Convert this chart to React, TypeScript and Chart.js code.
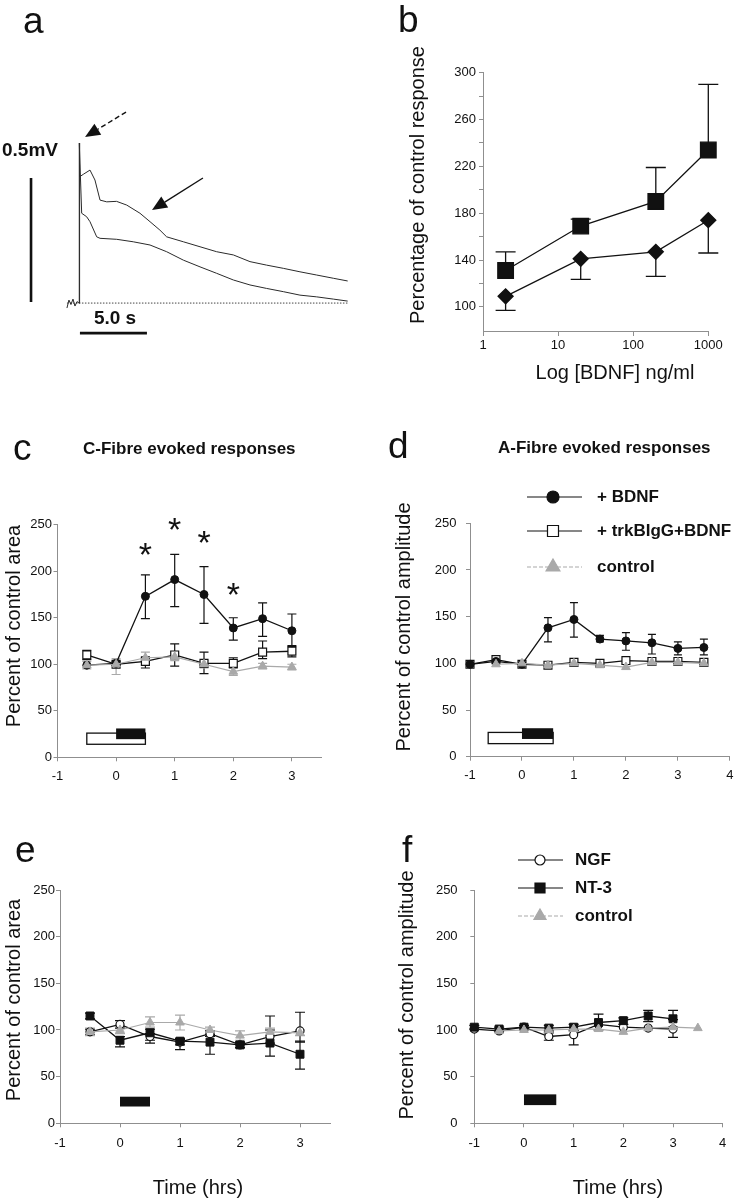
import React, { useEffect, useRef } from 'react';
import { Chart, registerables } from 'chart.js';

Chart.register(...registerables);

const FONT = '"Liberation Sans", Arial, Helvetica, sans-serif';
const PAGE_W = 740;
const PAGE_H = 1200;
const INK = '#111111';
const GRAY = '#a9a9a9';
const AXIS = '#8f8f8f';

// ---------- Panel a : trace (time in s, amplitude in mV) ----------
const A_UPPER_T = [0, 0.02, 0.07, 0.35, 0.82, 1.19, 1.57, 2.07, 2.8, 3.56, 4.55, 5.3, 6.04, 6.54, 7.79, 9.03, 10.27, 11.52, 12.76, 14.0, 15.25, 16.49, 17.74, 18.98, 20.05];
const A_UPPER_MV = [0, 0.645, 0.509, 0.52, 0.536, 0.496, 0.415, 0.408, 0.41, 0.395, 0.362, 0.328, 0.294, 0.267, 0.247, 0.227, 0.207, 0.194, 0.167, 0.153, 0.14, 0.126, 0.113, 0.1, 0.089];
const A_LOWER_T = [0, 0.02, 0.2, 0.57, 0.82, 1.32, 1.57, 2.81, 4.05, 5.3, 6.54, 7.79, 9.03, 10.27, 11.52, 12.76, 14.0, 15.25, 16.49, 17.74, 18.98, 20.05];
const A_LOWER_MV = [0, 0.645, 0.362, 0.348, 0.328, 0.267, 0.261, 0.257, 0.247, 0.234, 0.207, 0.173, 0.146, 0.12, 0.093, 0.073, 0.059, 0.046, 0.032, 0.025, 0.016, 0.008];
const A_ARTIFACT_T = [-0.9, -0.75, -0.6, -0.45, -0.3, -0.15, 0];
const A_ARTIFACT_MV = [-0.02, 0.012, -0.006, 0.016, -0.012, 0.006, 0];
const A_BASELINE_T = [-0.9, 20.1];
const A_BASELINE_MV = [0, 0];
const A_T_RANGE = [-1.418, 20.97];
const A_MV_RANGE = [-0.169, 0.8185];
const A_SCALE_V = [-3.58, 0.004, 0.504];
const A_SCALE_H = [0.07, 5.07, -0.121];
const A_LABEL_MV = [-3.66, 0.615];
const A_LABEL_S = [2.69, -0.0625];
const A_ARROW_DASHED = [3.51, 0.77, 0.45, 0.669];
const A_ARROW_SOLID = [9.25, 0.504, 5.45, 0.375];

// ---------- Panel b : dose response ----------
const B_CONC = [2, 20, 200, 1000];
const B_SQUARE = [131, 169, 190, 234];
const B_SQUARE_HI = [147, 175, 219, 290];
const B_DIAMOND = [109, 141, 147, 174];
const B_DIAMOND_LO = [97, 123.5, 126, 146];
const B_X_TICKS = [1, 10, 100, 1000];
const B_Y_TICKS = [100, 120, 140, 160, 180, 200, 220, 240, 260, 280, 300];
const B_Y_LABELS = [100, 140, 180, 220, 260, 300];
const B_Y_RANGE = [78.5, 300];

// ---------- Panel c : C-fibre ----------
const C_TIME = [-0.5, 0, 0.5, 1, 1.5, 2, 2.5, 3];
const C_BDNF = [99, 101, 173, 191, 175, 139, 149, 136];
const C_BDNF_HI = [null, 103, 196, 218, 205, 150, 166, 154];
const C_BDNF_LO = [null, 99, 149, 162, 144, 126, 130, 119];
const C_TRKB = [110, 100, 103, 110, 101, 101, 113, 114];
const C_TRKB_HI = [115, null, 108, 122, 113, 107, 125, 120];
const C_TRKB_LO = [105, null, 96, 98, 90, 96, 106, 108];
const C_CTRL = [99, 100, 107, 108, 100, 92, 98, 97];
const C_CTRL_HI = [103, 106, 113, 112, 104, 97, 101, 100];
const C_CTRL_LO = [95, 89, 102, 104, 96, 88, 95, 94];
const C_STAR_X = [0.5, 1, 1.5, 2];
const C_STAR_Y = [224, 251, 237, 181];
const C_OPEN_BAR = [-0.5, 0.5, 14, 26];
const C_DRUG_BAR = [0, 0.5, 19.5, 31];

// ---------- Panel d : A-fibre ----------
const D_TIME = [-1, -0.5, 0, 0.5, 1, 1.5, 2, 2.5, 3, 3.5];
const D_BDNF = [99, 102, 99, 138, 147, 126, 124, 122, 116, 117];
const D_BDNF_HI = [null, null, null, 149, 165, 130, 133, 131, 123, 126];
const D_BDNF_LO = [null, null, null, 123, 128, 123, 114, 110, 109, 109];
const D_TRKB = [99, 104, 99, 98, 101, 100, 103, 102, 102, 101];
const D_CTRL = [null, 99, 100, 98, 100, 98, 96, 101, 101, 100];
const D_OPEN_BAR = [-0.65, 0.6, 14, 26];
const D_DRUG_BAR = [0, 0.6, 19, 30.5];

// ---------- Panel e : C-fibre, NGF / NT-3 ----------
const E_TIME = [-0.5, 0, 0.5, 1, 1.5, 2, 2.5, 3];
const E_NGF = [98, 106, 93, 87, 96, 84, 93, 99];
const E_NGF_HI = [101, 110, 96, 90, 99, 87, 115, 119];
const E_NGF_LO = [95, 102, 86, 84, 93, 81, 86, 87];
const E_NT3 = [115, 89, 97, 88, 87, 84, 86, 74];
const E_NT3_HI = [118, 93, 101, 91, 95, 87, 100, 88];
const E_NT3_LO = [112, 82, 89, 79, 74, 81, 72, 58];
const E_CTRL = [98, 100, 108, 108, 100, 94, 98, 97];
const E_CTRL_HI = [102, 104, 114, 116, 103, 99, 102, 100];
const E_CTRL_LO = [94, 96, 103, 100, 97, 89, 94, 94];
const E_DRUG_BAR = [0, 0.5, 18, 28.5];

// ---------- Panel f : A-fibre, NGF / NT-3 ----------
const F_TIME = [-1, -0.5, 0, 0.5, 1, 1.5, 2, 2.5, 3, 3.5];
const F_NGF = [101, 99, 103, 93, 95, 106, 103, 102, 101, null];
const F_NGF_HI = [null, null, null, 97, 99, null, null, null, 111, null];
const F_NGF_LO = [null, null, null, 89, 84, null, null, null, 92, null];
const F_NT3 = [103, 101, 103, 102, 103, 108, 110, 115, 112, null];
const F_NT3_HI = [105, 103, 105, 105, 106, 117, 113, 121, 121, null];
const F_NT3_LO = [101, 99, 101, 99, 100, 100, 106, 109, 103, null];
const F_CTRL = [null, 99, 100, 100, 101, 101, 98, 102, 103, 102];
const F_DRUG_BAR = [0, 0.65, 19.5, 31];

const T_TICKS_3 = [-1, 0, 1, 2, 3];
const T_TICKS_4 = [-1, 0, 1, 2, 3, 4];
const PCT_TICKS = [0, 50, 100, 150, 200, 250];

type Area = { L: number; R: number; T: number; B: number };

const AREA_A: Area = { L: 60, R: 360, T: 100, B: 345 };
const AREA_B: Area = { L: 483, R: 708.3, T: 72.7, B: 332 };
const AREA_C: Area = { L: 57.5, R: 321.2, T: 524.7, B: 757.3 };
const AREA_D: Area = { L: 470, R: 731.7, T: 523.3, B: 756.7 };
const AREA_E: Area = { L: 60, R: 330, T: 890, B: 1123.3 };
const AREA_F: Area = { L: 474.3, R: 722.7, T: 890, B: 1123.3 };

function pts(xs: number[], ys: (number | null)[]) {
  const out: { x: number; y: number }[] = [];
  xs.forEach((x, i) => {
    const y = ys[i];
    if (y !== null && y !== undefined) out.push({ x, y });
  });
  return out;
}

const lineStyle = (color: string, w = 1.3) => ({
  borderColor: color,
  borderWidth: w,
  tension: 0,
  fill: false,
  clip: false,
  spanGaps: true,
});
const S_BDNF = { ...lineStyle(INK), pointStyle: 'circle', pointRadius: 4, pointBackgroundColor: INK, pointBorderColor: INK, pointBorderWidth: 1 };
const S_TRKB = { ...lineStyle(INK), pointStyle: 'rect', pointRadius: 5.6, pointBackgroundColor: '#ffffff', pointBorderColor: INK, pointBorderWidth: 1.2 };
const S_CTRL = { ...lineStyle(GRAY, 1.2), pointStyle: 'triangle', pointRadius: 5, pointBackgroundColor: GRAY, pointBorderColor: GRAY, pointBorderWidth: 1 };
const S_NGF = { ...lineStyle(INK), pointStyle: 'circle', pointRadius: 4, pointBackgroundColor: '#ffffff', pointBorderColor: INK, pointBorderWidth: 1.2 };
const S_NT3 = { ...lineStyle(INK), pointStyle: 'rect', pointRadius: 5.6, pointBackgroundColor: INK, pointBorderColor: INK, pointBorderWidth: 1 };

function axisScale(area: Area, which: 'x' | 'y', o: any) {
  return {
    type: o.type || 'linear',
    position: which === 'x' ? 'bottom' : 'left',
    min: o.min,
    max: o.max,
    border: { display: true, color: AXIS, width: 1 },
    grid: { display: true, drawOnChartArea: false, drawTicks: true, tickLength: 4, color: AXIS, lineWidth: 1 },
    ticks: {
      color: INK,
      font: { family: FONT, size: 13, lineHeight: 1.2 },
      padding: o.pad,
      autoSkip: false,
      maxRotation: 0,
      minRotation: 0,
      callback: o.label || ((v: any) => String(v)),
    },
    afterBuildTicks: (s: any) => {
      s.ticks = o.ticks.map((v: number) => ({ value: v }));
    },
    afterFit:
      which === 'x'
        ? (s: any) => {
            s.height = PAGE_H - area.B;
          }
        : (s: any) => {
            s.width = area.L;
          },
  };
}

function makeChart(canvas: HTMLCanvasElement, area: Area, scales: any, datasets: any[], plugin: any, hidden = false) {
  return new Chart(canvas, {
    type: 'line',
    data: { datasets },
    options: {
      responsive: false,
      animation: false,
      events: [],
      layout: {
        padding: hidden
          ? { left: area.L, top: area.T, right: PAGE_W - area.R, bottom: PAGE_H - area.B }
          : { left: 0, top: area.T, right: PAGE_W - area.R, bottom: 0 },
      },
      plugins: { legend: { display: false }, tooltip: { enabled: false }, title: { display: false } },
      scales,
    } as any,
    plugins: [plugin],
  } as any);
}

// ---------- drawing helpers ----------
function txt(ctx: CanvasRenderingContext2D, s: string, x: number, y: number, font: string, align: CanvasTextAlign = 'left', base: CanvasTextBaseline = 'alphabetic') {
  ctx.save();
  ctx.font = font;
  ctx.fillStyle = INK;
  ctx.textAlign = align;
  ctx.textBaseline = base;
  ctx.fillText(s, x, y);
  ctx.restore();
}
function vtxt(ctx: CanvasRenderingContext2D, s: string, cx: number, cy: number, font: string) {
  ctx.save();
  ctx.translate(cx, cy);
  ctx.rotate(-Math.PI / 2);
  ctx.font = font;
  ctx.fillStyle = INK;
  ctx.textAlign = 'center';
  ctx.textBaseline = 'middle';
  ctx.fillText(s, 0, 0);
  ctx.restore();
}
function centeredGlyph(ctx: CanvasRenderingContext2D, s: string, cx: number, cy: number, font: string) {
  ctx.save();
  ctx.font = font;
  ctx.fillStyle = INK;
  ctx.textAlign = 'center';
  ctx.textBaseline = 'alphabetic';
  const m = ctx.measureText(s);
  const base = cy + (m.actualBoundingBoxAscent - m.actualBoundingBoxDescent) / 2;
  ctx.fillText(s, cx, base);
  ctx.restore();
}
function errBars(chart: any, xs: number[], mid: (number | null)[], hi: (number | null)[] | null, lo: (number | null)[] | null, color: string, cap: number, lw = 1.2) {
  const { ctx } = chart;
  const sx = chart.scales.x;
  const sy = chart.scales.y;
  ctx.save();
  ctx.strokeStyle = color;
  ctx.lineWidth = lw;
  xs.forEach((xv, i) => {
    const m = mid[i];
    if (m === null || m === undefined) return;
    const h = hi ? hi[i] : null;
    const l = lo ? lo[i] : null;
    if ((h === null || h === undefined) && (l === null || l === undefined)) return;
    const px = sx.getPixelForValue(xv);
    const yTop = sy.getPixelForValue(h ?? m);
    const yBot = sy.getPixelForValue(l ?? m);
    ctx.beginPath();
    ctx.moveTo(px, yTop);
    ctx.lineTo(px, yBot);
    if (h !== null && h !== undefined) {
      ctx.moveTo(px - cap, yTop);
      ctx.lineTo(px + cap, yTop);
    }
    if (l !== null && l !== undefined) {
      ctx.moveTo(px - cap, yBot);
      ctx.lineTo(px + cap, yBot);
    }
    ctx.stroke();
  });
  ctx.restore();
}
function dataBox(chart: any, spec: number[], fill: string, stroke: string | null) {
  const { ctx } = chart;
  const sx = chart.scales.x;
  const sy = chart.scales.y;
  const x0 = sx.getPixelForValue(spec[0]);
  const x1 = sx.getPixelForValue(spec[1]);
  const y0 = sy.getPixelForValue(spec[2]);
  const y1 = sy.getPixelForValue(spec[3]);
  ctx.save();
  ctx.fillStyle = fill;
  ctx.fillRect(x0, y1, x1 - x0, y0 - y1);
  if (stroke) {
    ctx.strokeStyle = stroke;
    ctx.lineWidth = 1.3;
    ctx.strokeRect(x0, y1, x1 - x0, y0 - y1);
  }
  ctx.restore();
}
function marker(ctx: CanvasRenderingContext2D, kind: string, x: number, y: number, r: number, fill: string, stroke: string) {
  ctx.save();
  ctx.beginPath();
  if (kind === 'circle') ctx.arc(x, y, r, 0, Math.PI * 2);
  else if (kind === 'square') ctx.rect(x - r, y - r, 2 * r, 2 * r);
  else {
    ctx.moveTo(x, y - r);
    ctx.lineTo(x + r * 0.866, y + r * 0.5);
    ctx.lineTo(x - r * 0.866, y + r * 0.5);
    ctx.closePath();
  }
  ctx.fillStyle = fill;
  ctx.fill();
  ctx.strokeStyle = stroke;
  ctx.lineWidth = 1.2;
  ctx.stroke();
  ctx.restore();
}
function legendRow(ctx: CanvasRenderingContext2D, y: number, x0: number, x1: number, xm: number, xt: number, kind: string, r: number, fill: string, stroke: string, lineColor: string, dashed: boolean, label: string) {
  ctx.save();
  ctx.strokeStyle = lineColor;
  ctx.lineWidth = 1.2;
  if (dashed) ctx.setLineDash([4, 2]);
  ctx.beginPath();
  ctx.moveTo(x0, y);
  ctx.lineTo(x1, y);
  ctx.stroke();
  ctx.restore();
  marker(ctx, kind, xm, y, r, fill, stroke);
  txt(ctx, label, xt, y, `bold 17px ${FONT}`, 'left', 'middle');
}
function arrow(chart: any, spec: number[], dashed: boolean) {
  const { ctx } = chart;
  const sx = chart.scales.x;
  const sy = chart.scales.y;
  const tx = sx.getPixelForValue(spec[0]);
  const ty = sy.getPixelForValue(spec[1]);
  const hx = sx.getPixelForValue(spec[2]);
  const hy = sy.getPixelForValue(spec[3]);
  const dx = hx - tx;
  const dy = hy - ty;
  const len = Math.hypot(dx, dy);
  const ux = dx / len;
  const uy = dy / len;
  const head = 15;
  const half = 6.5;
  const bx = hx - ux * head;
  const by = hy - uy * head;
  ctx.save();
  ctx.strokeStyle = INK;
  ctx.lineWidth = 1.4;
  if (dashed) ctx.setLineDash([5, 3]);
  ctx.beginPath();
  ctx.moveTo(tx, ty);
  ctx.lineTo(bx, by);
  ctx.stroke();
  ctx.setLineDash([]);
  ctx.fillStyle = INK;
  ctx.beginPath();
  ctx.moveTo(hx, hy);
  ctx.lineTo(bx - uy * half, by + ux * half);
  ctx.lineTo(bx + uy * half, by - ux * half);
  ctx.closePath();
  ctx.fill();
  ctx.restore();
}

const LETTER = `37px ${FONT}`;
const TITLE = `bold 17px ${FONT}`;
const AXT = `20px ${FONT}`;

// ---------- panels ----------
function panelA(canvas: HTMLCanvasElement) {
  const traceStyle = { borderColor: '#2a2a2a', borderWidth: 1, pointRadius: 0, tension: 0, fill: false, clip: false };
  const plugin = {
    id: 'panelA',
    afterDraw(chart: any) {
      const { ctx } = chart;
      const sx = chart.scales.x;
      const sy = chart.scales.y;
      txt(ctx, 'a', 23, 33, LETTER);
      ctx.save();
      ctx.strokeStyle = INK;
      ctx.lineWidth = 2.6;
      ctx.beginPath();
      const vx = sx.getPixelForValue(A_SCALE_V[0]);
      ctx.moveTo(vx, sy.getPixelForValue(A_SCALE_V[1]));
      ctx.lineTo(vx, sy.getPixelForValue(A_SCALE_V[2]));
      const hy = sy.getPixelForValue(A_SCALE_H[2]);
      ctx.moveTo(sx.getPixelForValue(A_SCALE_H[0]), hy);
      ctx.lineTo(sx.getPixelForValue(A_SCALE_H[1]), hy);
      ctx.stroke();
      ctx.restore();
      txt(ctx, '0.5mV', sx.getPixelForValue(A_LABEL_MV[0]), sy.getPixelForValue(A_LABEL_MV[1]), `bold 19px ${FONT}`, 'center', 'middle');
      txt(ctx, '5.0 s', sx.getPixelForValue(A_LABEL_S[0]), sy.getPixelForValue(A_LABEL_S[1]), `bold 19px ${FONT}`, 'center', 'middle');
      arrow(chart, A_ARROW_DASHED, true);
      arrow(chart, A_ARROW_SOLID, false);
    },
  };
  return makeChart(
    canvas,
    AREA_A,
    {
      x: { type: 'linear', display: false, min: A_T_RANGE[0], max: A_T_RANGE[1] },
      y: { type: 'linear', display: false, min: A_MV_RANGE[0], max: A_MV_RANGE[1] },
    },
    [
      { ...traceStyle, data: pts(A_UPPER_T, A_UPPER_MV) },
      { ...traceStyle, data: pts(A_LOWER_T, A_LOWER_MV) },
      { ...traceStyle, data: pts(A_ARTIFACT_T, A_ARTIFACT_MV) },
      { ...traceStyle, borderColor: '#444', borderDash: [1.5, 1.5], data: pts(A_BASELINE_T, A_BASELINE_MV) },
    ],
    plugin,
    true
  );
}

function panelB(canvas: HTMLCanvasElement) {
  const plugin = {
    id: 'panelB',
    beforeDatasetsDraw(chart: any) {
      errBars(chart, B_CONC, B_SQUARE, B_SQUARE_HI, null, INK, 10, 1.3);
      errBars(chart, B_CONC, B_DIAMOND, null, B_DIAMOND_LO, INK, 10, 1.3);
    },
    afterDraw(chart: any) {
      const { ctx } = chart;
      txt(ctx, 'b', 398, 32, LETTER);
      vtxt(ctx, 'Percentage of control response', 418, 185, AXT);
      txt(ctx, 'Log [BDNF] ng/ml', 615, 373, AXT, 'center', 'middle');
    },
  };
  return makeChart(
    canvas,
    AREA_B,
    {
      x: axisScale(AREA_B, 'x', { type: 'logarithmic', min: B_X_TICKS[0], max: B_X_TICKS[B_X_TICKS.length - 1], ticks: B_X_TICKS, pad: 2 }),
      y: axisScale(AREA_B, 'y', {
        min: B_Y_RANGE[0],
        max: B_Y_RANGE[1],
        ticks: B_Y_TICKS,
        pad: 3,
        label: (v: any) => (B_Y_LABELS.includes(v) ? String(v) : ''),
      }),
    },
    [
      { ...lineStyle(INK), pointStyle: 'rect', pointRadius: 11, pointBackgroundColor: INK, pointBorderColor: INK, data: pts(B_CONC, B_SQUARE) },
      { ...lineStyle(INK), pointStyle: 'rectRot', pointRadius: 7.5, pointBackgroundColor: INK, pointBorderColor: INK, data: pts(B_CONC, B_DIAMOND) },
    ],
    plugin
  );
}

function panelC(canvas: HTMLCanvasElement) {
  const plugin = {
    id: 'panelC',
    beforeDatasetsDraw(chart: any) {
      dataBox(chart, C_OPEN_BAR, '#ffffff', INK);
      dataBox(chart, C_DRUG_BAR, INK, null);
      errBars(chart, C_TIME, C_BDNF, C_BDNF_HI, C_BDNF_LO, INK, 4.5);
      errBars(chart, C_TIME, C_TRKB, C_TRKB_HI, C_TRKB_LO, INK, 4.5);
      errBars(chart, C_TIME, C_CTRL, C_CTRL_HI, C_CTRL_LO, GRAY, 4.5);
    },
    afterDraw(chart: any) {
      const { ctx } = chart;
      const sx = chart.scales.x;
      const sy = chart.scales.y;
      txt(ctx, 'c', 13, 460, LETTER);
      txt(ctx, 'C-Fibre evoked responses', 83, 449, TITLE, 'left', 'middle');
      vtxt(ctx, 'Percent of control area', 14, 626, AXT);
      C_STAR_X.forEach((xv, i) => {
        centeredGlyph(ctx, '*', sx.getPixelForValue(xv), sy.getPixelForValue(C_STAR_Y[i]), `34px ${FONT}`);
      });
    },
  };
  return makeChart(
    canvas,
    AREA_C,
    {
      x: axisScale(AREA_C, 'x', { min: -1, max: 3.5, ticks: T_TICKS_3, pad: 7.5 }),
      y: axisScale(AREA_C, 'y', { min: 0, max: 250, ticks: PCT_TICKS, pad: 1.6 }),
    },
    [
      { ...S_CTRL, data: pts(C_TIME, C_CTRL) },
      { ...S_BDNF, data: pts(C_TIME, C_BDNF) },
      { ...S_TRKB, data: pts(C_TIME, C_TRKB) },
    ],
    plugin
  );
}

function panelD(canvas: HTMLCanvasElement) {
  const plugin = {
    id: 'panelD',
    beforeDatasetsDraw(chart: any) {
      dataBox(chart, D_OPEN_BAR, '#ffffff', INK);
      dataBox(chart, D_DRUG_BAR, INK, null);
      errBars(chart, D_TIME, D_BDNF, D_BDNF_HI, D_BDNF_LO, INK, 4);
    },
    afterDraw(chart: any) {
      const { ctx } = chart;
      txt(ctx, 'd', 388, 458, LETTER);
      txt(ctx, 'A-Fibre evoked responses', 498, 448, TITLE, 'left', 'middle');
      vtxt(ctx, 'Percent of control amplitude', 404, 627, AXT);
      legendRow(ctx, 497, 527, 582, 553, 597, 'circle', 6, INK, INK, INK, false, '+ BDNF');
      legendRow(ctx, 531, 527, 582, 553, 597, 'square', 5.5, '#ffffff', INK, INK, false, '+ trkBIgG+BDNF');
      legendRow(ctx, 567, 527, 582, 553, 597, 'triangle', 8, GRAY, GRAY, GRAY, true, 'control');
    },
  };
  return makeChart(
    canvas,
    AREA_D,
    {
      x: axisScale(AREA_D, 'x', { min: -1, max: 4, ticks: T_TICKS_4, pad: 6.5 }),
      y: axisScale(AREA_D, 'y', { min: 0, max: 250, ticks: PCT_TICKS, pad: 9.5 }),
    },
    [
      { ...S_CTRL, data: pts(D_TIME, D_CTRL) },
      { ...S_BDNF, data: pts(D_TIME, D_BDNF) },
      { ...S_TRKB, data: pts(D_TIME, D_TRKB) },
    ],
    plugin
  );
}

function panelE(canvas: HTMLCanvasElement) {
  const plugin = {
    id: 'panelE',
    beforeDatasetsDraw(chart: any) {
      dataBox(chart, E_DRUG_BAR, INK, null);
      errBars(chart, E_TIME, E_NGF, E_NGF_HI, E_NGF_LO, INK, 5);
      errBars(chart, E_TIME, E_NT3, E_NT3_HI, E_NT3_LO, INK, 5);
      errBars(chart, E_TIME, E_CTRL, E_CTRL_HI, E_CTRL_LO, GRAY, 5);
    },
    afterDraw(chart: any) {
      const { ctx } = chart;
      txt(ctx, 'e', 15, 862, LETTER);
      vtxt(ctx, 'Percent of control area', 14, 1000, AXT);
      txt(ctx, 'Time (hrs)', 198, 1188, AXT, 'center', 'middle');
    },
  };
  return makeChart(
    canvas,
    AREA_E,
    {
      x: axisScale(AREA_E, 'x', { min: -1, max: 3.5, ticks: T_TICKS_3, pad: 8 }),
      y: axisScale(AREA_E, 'y', { min: 0, max: 250, ticks: PCT_TICKS, pad: 1 }),
    },
    [
      { ...S_CTRL, data: pts(E_TIME, E_CTRL) },
      { ...S_NT3, data: pts(E_TIME, E_NT3) },
      { ...S_NGF, data: pts(E_TIME, E_NGF) },
    ],
    plugin
  );
}

function panelF(canvas: HTMLCanvasElement) {
  const plugin = {
    id: 'panelF',
    beforeDatasetsDraw(chart: any) {
      dataBox(chart, F_DRUG_BAR, INK, null);
      errBars(chart, F_TIME, F_NGF, F_NGF_HI, F_NGF_LO, INK, 5);
      errBars(chart, F_TIME, F_NT3, F_NT3_HI, F_NT3_LO, INK, 5);
    },
    afterDraw(chart: any) {
      const { ctx } = chart;
      txt(ctx, 'f', 402, 862, LETTER);
      vtxt(ctx, 'Percent of control amplitude', 407, 995, AXT);
      txt(ctx, 'Time (hrs)', 618, 1188, AXT, 'center', 'middle');
      legendRow(ctx, 860, 518, 563, 540, 575, 'circle', 5, '#ffffff', INK, INK, false, 'NGF');
      legendRow(ctx, 888, 518, 563, 540, 575, 'square', 5, INK, INK, INK, false, 'NT-3');
      legendRow(ctx, 916, 518, 563, 540, 575, 'triangle', 7, GRAY, GRAY, GRAY, true, 'control');
    },
  };
  return makeChart(
    canvas,
    AREA_F,
    {
      x: axisScale(AREA_F, 'x', { min: -1, max: 4, ticks: T_TICKS_4, pad: 8 }),
      y: axisScale(AREA_F, 'y', { min: 0, max: 250, ticks: PCT_TICKS, pad: 12.7 }),
    },
    [
      { ...S_CTRL, data: pts(F_TIME, F_CTRL) },
      { ...S_NT3, data: pts(F_TIME, F_NT3) },
      { ...S_NGF, data: pts(F_TIME, F_NGF) },
    ],
    plugin
  );
}

export default function App() {
  const r0 = useRef<HTMLCanvasElement>(null);
  const r1 = useRef<HTMLCanvasElement>(null);
  const r2 = useRef<HTMLCanvasElement>(null);
  const r3 = useRef<HTMLCanvasElement>(null);
  const r4 = useRef<HTMLCanvasElement>(null);
  const r5 = useRef<HTMLCanvasElement>(null);
  const refs = [r0, r1, r2, r3, r4, r5];

  useEffect(() => {
    const builders = [panelA, panelB, panelC, panelD, panelE, panelF];
    const charts: Chart[] = [];
    builders.forEach((b, i) => {
      const c = refs[i].current;
      if (c) charts.push(b(c));
    });
    return () => charts.forEach((c) => c.destroy());
  }, []);

  return (
    <div style={{ position: 'absolute', left: 0, top: 0, width: PAGE_W, height: PAGE_H, background: '#ffffff', overflow: 'hidden' }}>
      {refs.map((r, i) => (
        <canvas
          key={i}
          ref={r}
          width={PAGE_W}
          height={PAGE_H}
          style={{ position: 'absolute', left: 0, top: 0, width: PAGE_W, height: PAGE_H }}
        />
      ))}
    </div>
  );
}
